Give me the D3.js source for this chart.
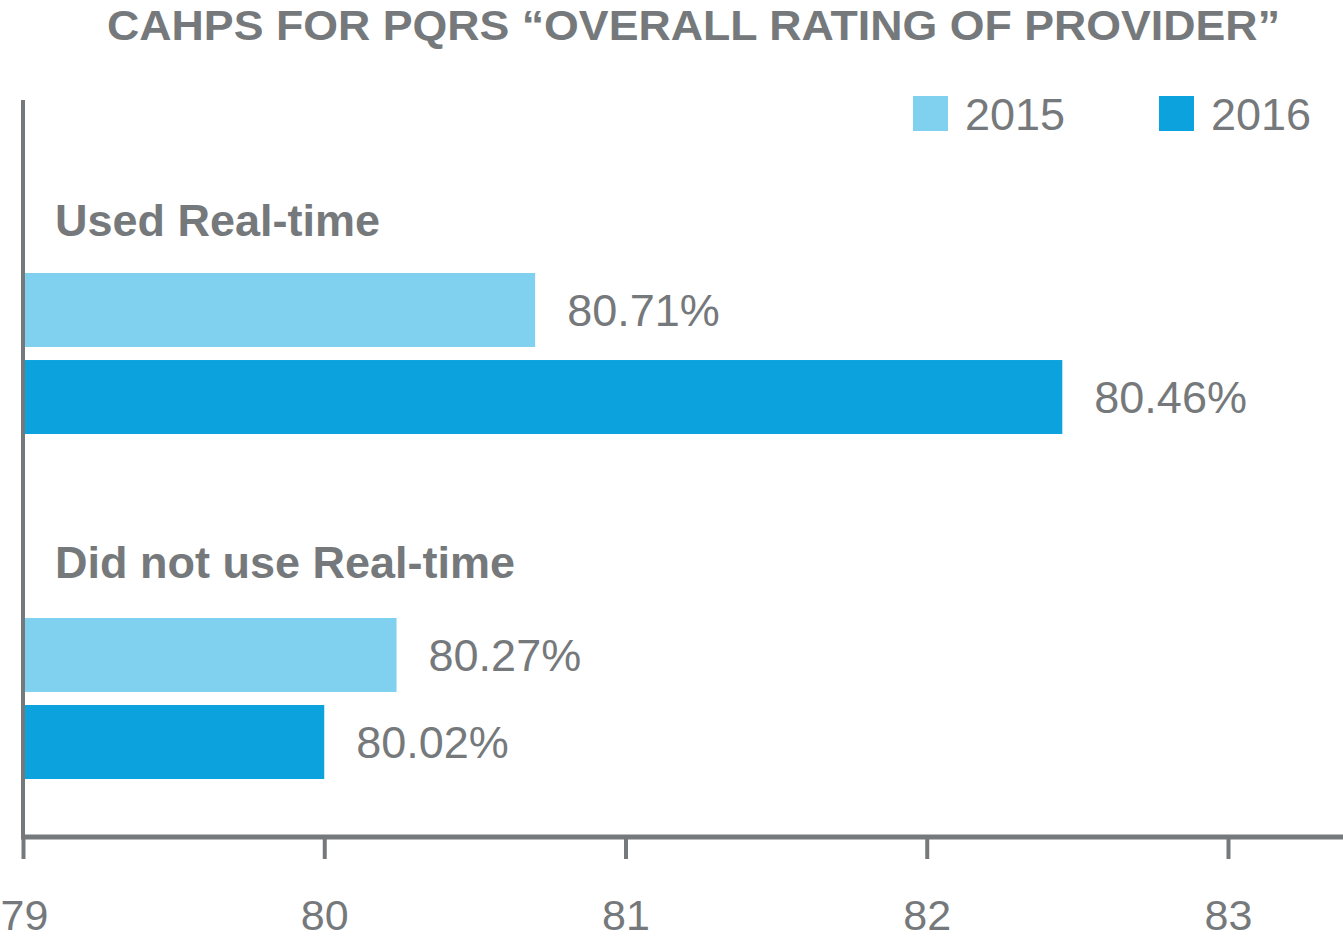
<!DOCTYPE html>
<html>
<head>
<meta charset="utf-8">
<script src="https://cdn.jsdelivr.net/npm/d3@7"></script>
<style>
  body { margin: 0; background: #fff; }
  text { font-family: "Liberation Sans", Arial, sans-serif; fill: #76797b; }
</style>
</head>
<body>
<script>
// Data
const categories = ["Used Real-time", "Did not use Real-time"];
const series = ["2015", "2016"];
const values2015 = [80.70, 80.24];
const values2016 = [82.45, 80.00];
const labels2015 = ["80.71%", "80.27%"];
const labels2016 = ["80.46%", "80.02%"];
const xTicks = [79, 80, 81, 82, 83];

const colors = {"2015": "#80d1ef", "2016": "#0ca2de"};
const grey = "#76797b";

const width = 1343, height = 948;

const svg = d3.select("body").append("svg")
  .attr("width", width)
  .attr("height", height);

// Scales
const x = d3.scaleLinear().domain([79, 83]).range([23, 1228]);
const y0 = d3.scaleBand().domain(categories).range([273, 779]).paddingInner(0.5333);
const y1 = d3.scaleBand().domain(series).range([0, y0.bandwidth()]).paddingInner(0.15);

const rows = [];
categories.forEach((c, i) => {
  rows.push({cat: c, s: "2015", v: values2015[i], label: labels2015[i]});
  rows.push({cat: c, s: "2016", v: values2016[i], label: labels2016[i]});
});

// Title
svg.append("text")
  .attr("x", 107).attr("y", 40)
  .attr("textLength", 1173)
  .attr("lengthAdjust", "spacingAndGlyphs")
  .style("font-size", "43px")
  .style("font-weight", "bold")
  .text("CAHPS FOR PQRS \u201cOVERALL RATING OF PROVIDER\u201d");

// Bars
svg.selectAll(".bar")
  .data(rows)
  .join("rect")
  .attr("class", "bar")
  .attr("x", x(79))
  .attr("y", d => y0(d.cat) + y1(d.s))
  .attr("width", d => x(d.v) - x(79))
  .attr("height", y1.bandwidth())
  .attr("fill", d => colors[d.s]);

// Value labels
svg.selectAll(".val")
  .data(rows)
  .join("text")
  .attr("class", "val")
  .attr("x", d => x(d.v) + 32)
  .attr("y", d => y0(d.cat) + y1(d.s) + y1.bandwidth() / 2 + 16)
  .style("font-size", "45px")
  .text(d => d.label);

// Category labels
svg.selectAll(".cat")
  .data(categories)
  .join("text")
  .attr("class", "cat")
  .attr("x", 55)
  .attr("y", (d, i) => y0(d) - 37 - i * 3)
  .style("font-size", "45px")
  .style("font-weight", "bold")
  .text(d => d);

// X axis
const xAxis = svg.append("g")
  .attr("transform", `translate(0,837)`)
  .call(d3.axisBottom(x).tickValues(xTicks).tickFormat(d3.format("d"))
    .tickSize(22).tickSizeOuter(0).tickPadding(0));
xAxis.select(".domain").remove();
xAxis.selectAll(".tick line").attr("stroke", grey).attr("stroke-width", 4);
xAxis.selectAll(".tick text")
  .attr("dy", null)
  .attr("y", 93)
  .attr("dx", d => d === 79 ? 1 : 0)
  .style("font-size", "43px")
  .style("fill", grey);

svg.append("line")
  .attr("x1", 21).attr("x2", width)
  .attr("y1", 837).attr("y2", 837)
  .attr("stroke", grey).attr("stroke-width", 5);

// Left axis line
svg.append("line")
  .attr("x1", 23).attr("x2", 23)
  .attr("y1", 100).attr("y2", 839)
  .attr("stroke", grey).attr("stroke-width", 4);

// Legend
const legend = svg.selectAll(".legend")
  .data(series)
  .join("g")
  .attr("class", "legend")
  .attr("transform", (d, i) => `translate(${913 + i * 246},96)`);
legend.append("rect")
  .attr("width", 35).attr("height", 35)
  .attr("fill", d => colors[d]);
legend.append("text")
  .attr("x", 52).attr("y", 34)
  .style("font-size", "45px")
  .text(d => d);
</script>
</body>
</html>
